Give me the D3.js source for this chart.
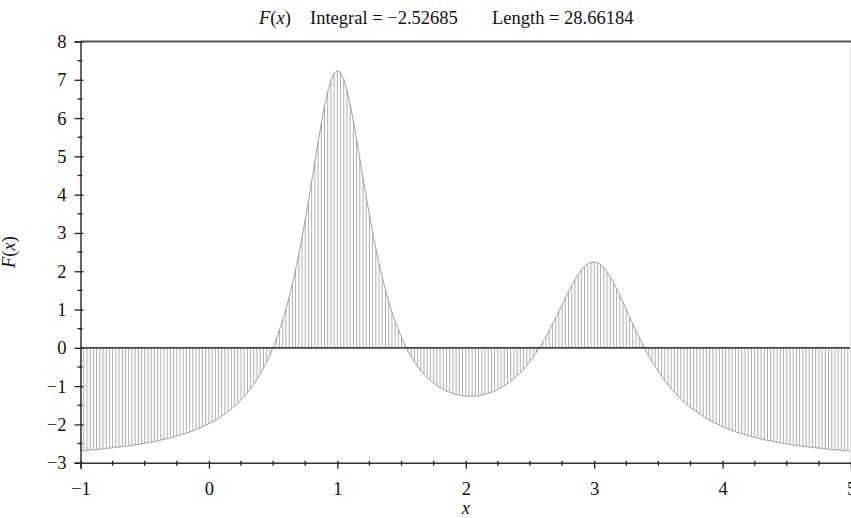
<!DOCTYPE html>
<html>
<head>
<meta charset="utf-8">
<script src="https://cdn.jsdelivr.net/npm/d3@7"></script>
<style>
  html, body { margin: 0; padding: 0; background: #fff; }
  svg { display: block; }
  text { font-family: "Liberation Serif", "DejaVu Serif", serif; fill: #111; }
</style>
</head>
<body>
<svg id="chart" width="851" height="518"></svg>
<script>
// ---- data ----
const xDomain = [-1, 5];
const yDomain = [-3, 8];
const sampleStep = 0.025;           // spacing of the hatch samples along x
// F(x) read at every hatch line, from x = -1 to x = 5
const fValues = [
  -2.69,-2.69,-2.68,-2.67,-2.66,-2.66,-2.65,-2.64,-2.63,-2.62,
  -2.61,-2.60,-2.59,-2.58,-2.57,-2.56,-2.55,-2.53,-2.52,-2.51,
  -2.49,-2.48,-2.46,-2.45,-2.43,-2.41,-2.39,-2.37,-2.35,-2.33,
  -2.30,-2.28,-2.25,-2.23,-2.20,-2.17,-2.13,-2.10,-2.06,-2.02,
  -1.98,-1.94,-1.89,-1.84,-1.78,-1.73,-1.66,-1.60,-1.52,-1.45,
  -1.36,-1.27,-1.17,-1.06,-0.95,-0.82,-0.68,-0.53,-0.37,-0.19,
  0.01,0.23,0.47,0.73,1.01,1.33,1.67,2.04,2.45,2.88,
  3.34,3.83,4.34,4.86,5.37,5.86,6.31,6.69,6.98,7.17,
  7.24,7.18,7.01,6.72,6.35,5.92,5.44,4.94,4.43,3.94,
  3.46,3.01,2.59,2.20,1.84,1.51,1.21,0.94,0.69,0.47,
  0.27,0.08,-0.08,-0.23,-0.36,-0.48,-0.59,-0.69,-0.78,-0.85,
  -0.92,-0.98,-1.04,-1.09,-1.13,-1.16,-1.19,-1.22,-1.23,-1.25,
  -1.26,-1.26,-1.26,-1.26,-1.25,-1.23,-1.21,-1.19,-1.16,-1.13,
  -1.09,-1.04,-0.99,-0.94,-0.87,-0.80,-0.73,-0.65,-0.56,-0.46,
  -0.35,-0.24,-0.12,0.01,0.15,0.30,0.45,0.62,0.78,0.95,
  1.13,1.30,1.47,1.63,1.78,1.92,2.03,2.13,2.19,2.23,
  2.24,2.22,2.17,2.09,1.98,1.85,1.71,1.54,1.37,1.19,
  1.00,0.82,0.63,0.45,0.28,0.11,-0.05,-0.21,-0.35,-0.49,
  -0.62,-0.74,-0.86,-0.97,-1.07,-1.16,-1.25,-1.34,-1.42,-1.49,
  -1.56,-1.62,-1.68,-1.74,-1.79,-1.84,-1.89,-1.94,-1.98,-2.02,
  -2.06,-2.09,-2.13,-2.16,-2.19,-2.22,-2.24,-2.27,-2.29,-2.32,
  -2.34,-2.36,-2.38,-2.40,-2.42,-2.43,-2.45,-2.47,-2.48,-2.50,
  -2.51,-2.52,-2.54,-2.55,-2.56,-2.57,-2.58,-2.59,-2.60,-2.61,
  -2.62,-2.63,-2.64,-2.65,-2.66,-2.66,-2.67,-2.68,-2.69,-2.69,
  -2.70
];
const xTicks = [-1, 0, 1, 2, 3, 4, 5];
const xMinorTicks = [-0.75,-0.5,-0.25,0.25,0.5,0.75,1.25,1.5,1.75,2.25,2.5,2.75,3.25,3.5,3.75,4.25,4.5,4.75];
const yTicks = [-3,-2,-1,0,1,2,3,4,5,6,7,8];
const yMinorTicks = [-2.5,-1.5,-0.5,0.5,1.5,2.5,3.5,4.5,5.5,6.5,7.5];
const titleIntegral = "Integral = \u22122.52685";
const titleLength = "Length = 28.66184";
const xLabel = "x";

(function () {
// ---- layout ----
const svg = d3.select("#chart");
const pLeft = 80.5, pRight = 851, pTop = 41.5, pBottom = 462.7;
const fs = 18.5;
const x = d3.scaleLinear().domain(xDomain).range([pLeft, pRight]);
const y = d3.scaleLinear().domain(yDomain).range([pBottom, pTop]);

const pts = fValues.map((v, i) => ({ x: xDomain[0] + i * sampleStep, y: v }));

// hatch lines
svg.append("g")
  .selectAll("line").data(pts).join("line")
  .attr("x1", d => x(d.x)).attr("x2", d => x(d.x))
  .attr("y1", y(0)).attr("y2", d => y(d.y))
  .attr("stroke", "#a6a6a6").attr("stroke-width", 0.9);

// curve outline
svg.append("path")
  .datum(pts)
  .attr("d", d3.line().x(d => x(d.x)).y(d => y(d.y)))
  .attr("fill", "none").attr("stroke", "#8c8c8c").attr("stroke-width", 0.8);

// zero line
svg.append("line")
  .attr("x1", x(xDomain[0])).attr("x2", x(xDomain[1]))
  .attr("y1", y(0)).attr("y2", y(0))
  .attr("stroke", "#444").attr("stroke-width", 1.6);

// right faint edge
svg.append("line")
  .attr("x1", pRight - 0.5).attr("x2", pRight - 0.5)
  .attr("y1", pTop).attr("y2", pBottom)
  .attr("stroke", "#e2e2e2").attr("stroke-width", 1);

// top frame line
svg.append("line")
  .attr("x1", pLeft).attr("x2", pRight)
  .attr("y1", pTop).attr("y2", pTop)
  .attr("stroke", "#555").attr("stroke-width", 2);

// y axis
const yAxis = d3.axisLeft(y).tickValues(yTicks).tickSize(6).tickPadding(8).tickFormat(d3.format("d"));
const gy = svg.append("g").attr("transform", `translate(${pLeft},0)`).call(yAxis);
gy.select(".domain").attr("stroke", "#333").attr("stroke-width", 1.5);
gy.selectAll(".tick line").attr("x1", 3).attr("stroke", "#222").attr("stroke-width", 1.3);
gy.selectAll(".tick text").attr("font-size", fs).attr("fill", "#111")
  .style("font-family", '"Liberation Serif", serif');
svg.append("g").selectAll("line").data(yMinorTicks).join("line")
  .attr("x1", pLeft - 3).attr("x2", pLeft + 2)
  .attr("y1", d => y(d)).attr("y2", d => y(d))
  .attr("stroke", "#222").attr("stroke-width", 1.3);

// x axis
const xAxis = d3.axisBottom(x).tickValues(xTicks).tickSize(6).tickPadding(13).tickFormat(d3.format("d"));
const gx = svg.append("g").attr("transform", `translate(0,${pBottom})`).call(xAxis);
gx.select(".domain").attr("stroke", "#333").attr("stroke-width", 1.5);
gx.selectAll(".tick line").attr("y1", -2).attr("stroke", "#222").attr("stroke-width", 1.3);
gx.selectAll(".tick text").attr("font-size", fs).attr("fill", "#111")
  .style("font-family", '"Liberation Serif", serif');
svg.append("g").selectAll("line").data(xMinorTicks).join("line")
  .attr("x1", d => x(d)).attr("x2", d => x(d))
  .attr("y1", pBottom - 2).attr("y2", pBottom + 3)
  .attr("stroke", "#222").attr("stroke-width", 1.3);

// title
const tF = svg.append("text").attr("x", 259).attr("y", 24).attr("font-size", fs);
tF.append("tspan").attr("font-style", "italic").text("F");
tF.append("tspan").text("(");
tF.append("tspan").attr("font-style", "italic").text("x");
tF.append("tspan").text(")");
svg.append("text").attr("x", 310).attr("y", 24).attr("font-size", fs).text(titleIntegral);
svg.append("text").attr("x", 492).attr("y", 24).attr("font-size", fs).text(titleLength);

// axis labels
svg.append("text").attr("x", (pLeft + pRight) / 2).attr("y", 514)
  .attr("text-anchor", "middle").attr("font-size", fs).attr("font-style", "italic").text(xLabel);
const yl = svg.append("text")
  .attr("transform", `translate(15,${(pTop + pBottom) / 2}) rotate(-90)`)
  .attr("text-anchor", "middle").attr("font-size", fs);
yl.append("tspan").attr("font-style", "italic").text("F");
yl.append("tspan").text("(");
yl.append("tspan").attr("font-style", "italic").text("x");
yl.append("tspan").text(")");
})();
</script>
</body>
</html>
